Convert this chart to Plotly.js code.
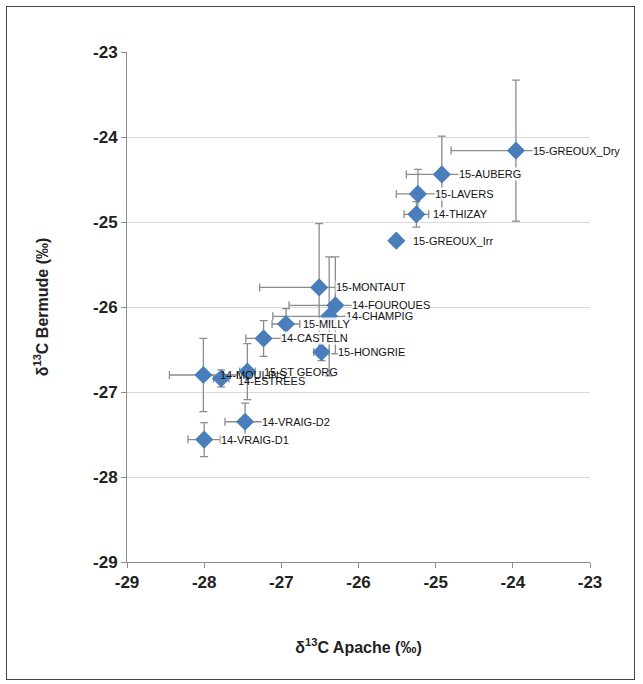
<!DOCTYPE html>
<html>
<head>
<meta charset="utf-8">
<script src="https://cdn.plot.ly/plotly-3.0.1.min.js"></script>
<style>
  html, body { margin: 0; padding: 0; background: #fff; }
  #wrap { position: relative; width: 643px; height: 684px; }
  #chart { width: 643px; height: 684px; }
  #frame { position: absolute; left: 6px; top: 6px; width: 629px; height: 674px;
           border: 1.5px solid #444; pointer-events: none; box-sizing: border-box; }
</style>
</head>
<body>
<div id="wrap"><div id="chart"></div><div id="frame"></div></div>
<script>
// Site labels
const sites = ["15-GREOUX_Dry", "15-AUBERG", "15-LAVERS", "14-THIZAY", "15-GREOUX_Irr",
  "15-MONTAUT", "14-FOURQUES", "14-CHAMPIG", "15-MILLY", "14-CASTELN", "15-HONGRIE",
  "14-MOULINS", "14-ESTREES", "15-ST GEORG", "14-VRAIG-D2", "14-VRAIG-D1"];
// δ13C Apache (‰) — x values
const apache = [-23.96, -24.92, -25.23, -25.25, -25.51,
  -26.51, -26.30, -26.38, -26.94, -27.23, -26.48,
  -28.01, -27.78, -27.44, -27.47, -28.00];
// δ13C Bermude (‰) — y values
const bermude = [-24.16, -24.44, -24.67, -24.91, -25.22,
  -25.77, -25.98, -26.11, -26.20, -26.37, -26.53,
  -26.80, -26.84, -26.76, -27.35, -27.56];
// error (standard deviation) on Apache
const apacheErr = [0.84, 0.46, 0.28, 0.16, 0.05,
  0.77, 0.60, 0.73, 0.18, 0.23, 0.10,
  0.44, 0.10, 0.10, 0.26, 0.21];
// error on Bermude
const bermudeErr = [0.83, 0.45, 0.29, 0.15, 0.05,
  0.75, 0.57, 0.70, 0.18, 0.21, 0.10,
  0.43, 0.10, 0.33, 0.22, 0.20];

const tickVals = [-29, -28, -27, -26, -25, -24, -23];
// labels in the crowded cluster are drawn without a white box (they overlap in the original)
const clusterLabels = ["14-MOULINS", "14-ESTREES", "15-ST GEORG"];

const errStyle = { type: "data", visible: true, color: "#8c8c8c", thickness: 1.3, width: 4 };

const trace = {
  type: "scatter",
  mode: "markers",
  x: apache,
  y: bermude,
  error_x: Object.assign({ array: apacheErr }, errStyle),
  error_y: Object.assign({ array: bermudeErr }, errStyle),
  marker: { symbol: "diamond", size: 14, color: "#4a7ebb", line: { width: 0 } },
  hoverinfo: "text",
  text: sites
};

const annotations = sites.map((s, i) => ({
  x: apache[i], y: bermude[i], xref: "x", yref: "y",
  text: s, showarrow: false, xanchor: "left", yanchor: "middle",
  xshift: 16, yshift: s === "14-ESTREES" ? -3 : 0,
  bgcolor: clusterLabels.includes(s) ? "rgba(255,255,255,0)" : "rgba(255,255,255,0.85)",
  borderpad: 0,
  font: { family: "Liberation Sans, Arial, sans-serif", size: 11, color: "#111" }
}));

const tf = { family: "Liberation Sans, Arial, sans-serif", size: 16, color: "#222", weight: "bold" };

const layout = {
  width: 643, height: 684,
  margin: { l: 127, r: 53, t: 52, b: 122 },
  paper_bgcolor: "#fff", plot_bgcolor: "#fff",
  showlegend: false,
  font: { family: "Liberation Sans, Arial, sans-serif", color: "#222" },
  xaxis: {
    range: [-29, -23], tickvals: tickVals, ticktext: tickVals.map(String),
    showgrid: false, zeroline: false, showline: true, linecolor: "#8c8c8c", linewidth: 1,
    ticks: "outside", ticklen: 5, tickcolor: "#8c8c8c",
    tickfont: Object.assign({}, tf, { size: 17 }),
    title: { text: "δ<sup>13</sup>C Apache (‰)", standoff: 50, font: tf }
  },
  yaxis: {
    range: [-29, -23], tickvals: tickVals, ticktext: tickVals.map(String),
    showgrid: true, gridcolor: "#d9d9d9", gridwidth: 1,
    zeroline: false, showline: true, linecolor: "#8c8c8c", linewidth: 1,
    ticks: "outside", ticklen: 5, tickcolor: "#8c8c8c",
    tickfont: Object.assign({}, tf, { size: 17 }),
    title: { text: "δ<sup>13</sup>C Bermude (‰)", standoff: 40, font: tf }
  },
  annotations: annotations
};

Plotly.newPlot("chart", [trace], layout, { displayModeBar: false, staticPlot: true });
</script>
</body>
</html>
